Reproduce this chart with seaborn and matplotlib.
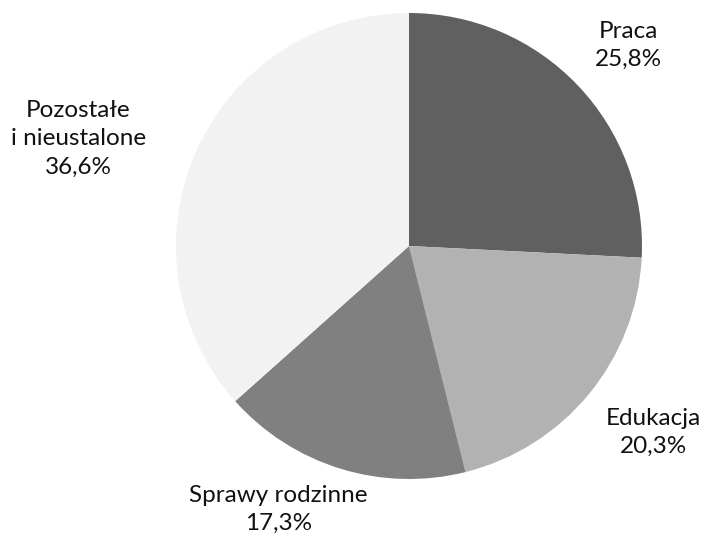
import matplotlib
matplotlib.use("Agg")
import matplotlib.pyplot as plt
import seaborn as sns

# Shares of categories (percent)
categories = ["Praca", "Edukacja", "Sprawy rodzinne", "Pozostałe\ni nieustalone"]
shares = [25.8, 20.3, 17.3, 36.6]
colors = ["#606060", "#b2b2b2", "#808080", "#f2f2f2"]

# label centres (axes data units, pie radius = 1)
label_pos = [(0.94, 0.86), (1.05, -0.80), (-0.56, -1.13), (-1.42, 0.46)]

sns.set_theme(style="white")
plt.rcParams["font.family"] = ["Lato", "DejaVu Sans"]

fig = plt.figure(figsize=(7.05, 5.38), dpi=100)
ax = fig.add_axes([0, 0, 1, 1])

r = 233.0
cx, cy = 409.0, 246.0

wedges, _ = ax.pie(shares, colors=colors, startangle=90, counterclock=False,
                   radius=1.0, wedgeprops={"linewidth": 0})
ax.set_xlim(-cx / r, (705 - cx) / r)
ax.set_ylim(-(538 - cy) / r, cy / r)
ax.set_aspect("auto")

for name, val, (x, y) in zip(categories, shares, label_pos):
    txt = f"{name}\n{val:.1f}%".replace(".", ",")
    ax.text(x, y, txt, ha="center", va="center", fontsize=17.5,
            color="#111111", linespacing=1.42)

ax.axis("off")
fig.savefig("out.png", dpi=100)
